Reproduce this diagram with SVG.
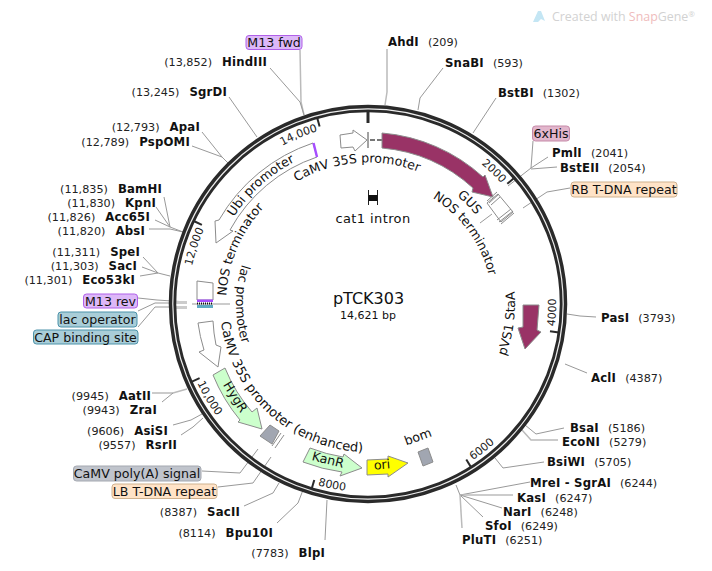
<svg xmlns="http://www.w3.org/2000/svg" width="712" height="571" viewBox="0 0 712 571">
<style>
text{font-family:"DejaVu Sans",Verdana,sans-serif;fill:#111}
.e{font-size:11.2px}
.e .n{font-weight:bold;letter-spacing:.2px;font-size:11.7px}
.e .p{fill:#222}
.r{text-anchor:end}
.f{font-size:12.6px;fill:#111}
.t{font-size:11px;fill:#222;text-anchor:start}
.c{fill:none;stroke:#999;stroke-width:1}
.l{fill:none;stroke:#bbb;stroke-width:1.5}
.tick{stroke:#2a2a2a;stroke-width:2}
.hollow{fill:#fff;stroke:#8c8c8c;stroke-width:1}
.mag{fill:#993366;stroke:#8c8c8c;stroke-width:1}
.grn{fill:#ccffcc;stroke:#8c8c8c;stroke-width:1}
.gry{fill:#a1a6b1;stroke:#8c8c8c;stroke-width:1}
.m{text-anchor:middle}
</style>
<defs>
<path id="cw141" d="M368,445.5A141.5,141.5 0 1 1 368,162.5A141.5,141.5 0 1 1 368,445.5"/>
<path id="cw160" d="M368,464A160,160 0 1 1 368,144A160,160 0 1 1 368,464"/>
<path id="cw142" d="M368,446A142,142 0 1 1 368,162A142,142 0 1 1 368,446"/>
<path id="cw124" d="M368,428A124,124 0 1 1 368,180A124,124 0 1 1 368,428"/>
<path id="cw140" d="M368,444A140,140 0 1 1 368,164A140,140 0 1 1 368,444"/>
<path id="cw180" d="M368,484A180,180 0 1 1 368,124A180,180 0 1 1 368,484"/>
<path id="ccw132" d="M368,172A132,132 0 1 0 368,436A132,132 0 1 0 368,172"/>
<path id="ccw148" d="M368,156A148,148 0 1 0 368,452A148,148 0 1 0 368,156"/>
<path id="ccw147" d="M368,157A147,147 0 1 0 368,451A147,147 0 1 0 368,157"/>
<path id="ccw188" d="M368,116A188,188 0 1 0 368,492A188,188 0 1 0 368,116"/>
</defs>

<g id="watermark">
<path d="M533,22L538,11L541,11L545,21L541,19L538,22Z" fill="#c4e6f4"/>
<text x="552" y="21" style="font-family:'Open Sans',sans-serif;font-size:12.4px;fill:#d2d2d2">Created with <tspan style="fill:#efbcbc">Snap</tspan>Gene<tspan font-size="8" dy="-4">®</tspan></text>
</g>

<g id="connectors">
<polyline class="l" points="387,49 387,92 385,105"/>
<polyline class="c" points="443,68 420,98 418,110"/>
<polyline class="c" points="496,98 473,133"/>
<polyline class="l" points="300,50 301,102 304,115"/>
<polyline class="c" points="270,68 300,102 304,115"/>
<polyline class="c" points="229,97 257,137"/>
<polyline class="c" points="202,132 222,157 228,163"/>
<polyline class="c" points="192,146 222,157"/>
<polyline class="c" points="164,197 170,227 183,232"/>
<polyline class="c" points="156,207 170,227"/>
<polyline class="c" points="155,220 170,227"/>
<polyline class="c" points="149,229 170,229 183,232"/>
<polyline class="c" points="143,257 158,273 170,276"/>
<polyline class="c" points="142,267 158,273"/>
<polyline class="c" points="140,276 158,273"/>
<polyline class="c" points="138,298 157,300 187,302"/>
<polyline class="c" points="138,311 155,303 187,303"/>
<polyline class="c" points="138,327 155,307 187,307"/>
<polyline class="c" points="170,302.500 187,302.500" style="stroke:#ccc;stroke-width:3"/>
<polyline class="c" points="170,307.500 187,307.500" style="stroke:#ccc;stroke-width:3"/>
<polyline class="c" points="192,304 230,304"/>
<polyline class="l" points="152,393 173,393 187,389"/>
<polyline class="c" points="162,402 173,393"/>
<polyline class="c" points="173,425 191,420 202,414"/>
<polyline class="c" points="181,435 193,427 203,418"/>
<polyline class="c" points="202,471 240,473 258,449"/>
<polyline class="c" points="218,487 253,483 271,457"/>
<polyline class="c" points="244,506 273,493 279,483"/>
<polyline class="c" points="277,523 298,503 303,490"/>
<polyline class="c" points="325,540 327,500"/>
<polyline class="c" points="533,141 531,168 508,186"/>
<polyline class="c" points="548,157 531,168"/>
<polyline class="c" points="557,167 531,169"/>
<polyline class="c" points="570,188 547,192 523,208"/>
<polyline class="c" points="480,223 492,214"/>
<polyline class="c" points="596,317 580,316 567,314"/>
<polyline class="c" points="587,373 565,364"/>
<polyline class="c" points="564,428 536,434 525,425"/>
<polyline class="l" points="558,440 531,440 522,430"/>
<polyline class="c" points="544,462 503,468 495,458"/>
<polyline class="c" points="530,482 460,495 456,485"/>
<polyline class="l" points="513,495 460,495"/>
<polyline class="c" points="502,508 460,495"/>
<polyline class="c" points="483,517 460,495"/>
<polyline class="l" points="462,528 460,495"/>
</g>

<g id="backbone">
<circle cx="368" cy="304" r="195.500" fill="none" stroke="#2a2a2a" stroke-width="7.500"/>
<circle cx="368" cy="304" r="195.200" fill="none" stroke="#eee" stroke-width="1.200"/>
<line x1="368" y1="110" x2="368" y2="123" stroke="#2a2a2a" stroke-width="3"/>
<line class="tick" x1="514.100" y1="178" x2="507.300" y2="183.800"/>
<line class="tick" x1="558.900" y1="332.500" x2="550" y2="331.200"/>
<line class="tick" x1="471" y1="467.100" x2="466.300" y2="459.500"/>
<line class="tick" x1="311.700" y1="488.600" x2="314.300" y2="480"/>
<line class="tick" x1="191.400" y1="381.900" x2="199.600" y2="378.200"/>
<line class="tick" x1="193.700" y1="221" x2="201.900" y2="224.900"/>
<line class="tick" x1="317.200" y1="117.800" x2="319.600" y2="126.500"/>
<text class="t" style="text-anchor:end"><textPath href="#cw180" startOffset="63.300%">2000</textPath></text>
<text class="t" style="text-anchor:end"><textPath href="#cw180" startOffset="31.800%">12,000</textPath></text>
<text class="t" style="text-anchor:end"><textPath href="#cw180" startOffset="45.500%">14,000</textPath></text>
<text class="t"><textPath href="#ccw188" startOffset="73.100%">4000</textPath></text>
<text class="t"><textPath href="#ccw188" startOffset="59.400%">6000</textPath></text>
<text class="t"><textPath href="#ccw188" startOffset="45.700%">8000</textPath></text>
<text class="t"><textPath href="#ccw188" startOffset="31.900%">10,000</textPath></text>
</g>

<g id="camv35s-top">
<path class="hollow" d="M340,135L353,133L353,130L367,140L355,151L353,147L341,148Z"/>
<line x1="368" y1="132" x2="368" y2="148" stroke="#444" stroke-width="1"/>
<line x1="370" y1="140" x2="382" y2="140" stroke="#777" stroke-width="2" stroke-dasharray="5,2"/>
<text class="f m"><textPath href="#cw141" startOffset="48.700%">CaMV 35S promoter</textPath></text>
</g>
<g id="gus">
<path class="mag" d="M382,133A171,171 0 0 1 483,177L485,175L493,197L472,192L473,188A156,156 0 0 0 382,148Z"/>
<text class="f m"><textPath href="#cw140" startOffset="62.500%">GUS</textPath></text>
</g>
<g id="nos-right">
<path class="hollow" d="M498,194L513,212L501,222L487,203Z"/>
<path d="M487,201L497,192M489,203L499,194M491,205L500,197M497,220L511,209M499,222L513,211M501,224L514,213" fill="none" stroke="#8c8c8c" stroke-width="1"/>
<text class="f m"><textPath href="#cw124" startOffset="65%">NOS terminator</textPath></text>
</g>
<g id="pvs1">
<path class="mag" d="M523,305L539,305L537,330L541,332L525,349L518,328L523,327Z"/>
<text class="f m"><textPath href="#ccw147" startOffset="72.800%">pVS1 StaA</textPath></text>
</g>
<g id="ubi">
<path class="hollow" d="M313,143A171,171 0 0 0 219,220L215,221L216,243L233,231L230,230A156,156 0 0 1 317,157Z"/>
<path d="M313.500,143L317,157" stroke="#a64dff" stroke-width="2.500" fill="none"/>
<text class="f m"><textPath href="#cw160" startOffset="38.300%">Ubi promoter</textPath></text>
</g>
<g id="nos-left">
<path class="hollow" d="M197,281L213,283L213,300L197,300Z"/>
<text class="f m"><textPath href="#cw142" startOffset="31.400%">NOS terminator</textPath></text>
</g>
<g id="m13rev-feature"><rect x="197" y="299.500" width="16" height="2.500" fill="#a64dff"/></g>
<g id="lac-operator-feature"><line x1="197" y1="303.500" x2="213" y2="303.500" stroke="#111" stroke-width="2" stroke-dasharray="1,1"/></g>
<g id="cap-feature"><rect x="197" y="305" width="16" height="3" fill="#5fa9c2"/></g>
<g id="lac-promoter">
<text class="f m"><textPath href="#ccw132" startOffset="25%">lac promoter</textPath></text>
</g>
<g id="camv35s-enh">
<path class="hollow" d="M198,323A171,171 0 0 0 204,350L199,352L218,367L221,347L216,345A156,156 0 0 1 213,321Z"/>
<text class="f m" style="font-size:13px"><textPath href="#ccw148" startOffset="38.200%">CaMV 35S promoter (enhanced)</textPath></text>
</g>
<g id="hygr">
<path class="grn" d="M213,375A171,171 0 0 0 240,420L238,422L262,429L257,408L252,412A156,156 0 0 1 225,368Z"/>
<text class="f m" transform="translate(235,397) rotate(58)" y="4">HygR</text>
</g>
<g id="polya"><path class="gry" d="M270,425L279,431L272,444L260,436Z"/></g>
<g id="lb"><path d="M284,435L275,448M281,433L272,446" stroke="#8c8c8c" fill="none"/></g>
<g id="kanr">
<path class="grn" d="M310,448A156,156 0 0 0 343,457L344,454L362,468L340,476L342,472A171,171 0 0 1 303,462Z"/>
<text class="f m" transform="translate(328,460) rotate(14)" y="4">KanR</text>
</g>
<g id="ori">
<path d="M367,460L388,459L388,456L408,463L388,477L388,474L367,475Z" fill="#ffff00" stroke="#8c8c8c"/>
<text class="f m" transform="translate(382,465) rotate(-5)" y="4">ori</text>
</g>
<g id="bom">
<path class="gry" d="M418,452L428,448L433,462L423,466Z"/>
<text class="f m" transform="translate(418,437) rotate(-20)" y="4">bom</text>
</g>
<g id="cat1">
<path d="M368.500,190V205M377.500,190V205" stroke="#222" fill="none"/>
<rect x="368.500" y="195" width="9" height="6" fill="#111"/>
<text class="f m" x="373" y="223" style="letter-spacing:.4px;font-size:13px">cat1 intron</text>
</g>
<g id="title">
<text class="m" x="368.500" y="304" style="font-size:16px">pTCK303</text>
<text class="m" x="368" y="319" style="font-size:11px">14,621 bp</text>
</g>

<g id="enzymes" class="e">
<text x="388" y="46"><tspan class="n">AhdI</tspan><tspan class="p" dx="9">(209)</tspan></text>
<text x="445" y="67"><tspan class="n">SnaBI</tspan><tspan class="p" dx="9">(593)</tspan></text>
<text x="498" y="97"><tspan class="n">BstBI</tspan><tspan class="p" dx="9">(1302)</tspan></text>
<text x="552" y="157"><tspan class="n">PmlI</tspan><tspan class="p" dx="9">(2041)</tspan></text>
<text x="560" y="172"><tspan class="n">BstEII</tspan><tspan class="p" dx="9">(2054)</tspan></text>
<text x="601" y="322"><tspan class="n">PasI</tspan><tspan class="p" dx="9">(3793)</tspan></text>
<text x="591" y="382"><tspan class="n">AclI</tspan><tspan class="p" dx="9">(4387)</tspan></text>
<text x="570" y="432"><tspan class="n">BsaI</tspan><tspan class="p" dx="9">(5186)</tspan></text>
<text x="562" y="446"><tspan class="n">EcoNI</tspan><tspan class="p" dx="9">(5279)</tspan></text>
<text x="547" y="466"><tspan class="n">BsiWI</tspan><tspan class="p" dx="9">(5705)</tspan></text>
<text x="530" y="487"><tspan class="n">MreI - SgrAI</tspan><tspan class="p" dx="9">(6244)</tspan></text>
<text x="517" y="502"><tspan class="n">KasI</tspan><tspan class="p" dx="9">(6247)</tspan></text>
<text x="503" y="516"><tspan class="n">NarI</tspan><tspan class="p" dx="9">(6248)</tspan></text>
<text x="485" y="530"><tspan class="n">SfoI</tspan><tspan class="p" dx="9">(6249)</tspan></text>
<text x="462" y="544"><tspan class="n">PluTI</tspan><tspan class="p" dx="9">(6251)</tspan></text>
<text class="r" x="325" y="557"><tspan class="p">(7783)</tspan><tspan class="n" dx="10">BlpI</tspan></text>
<text class="r" x="273" y="537"><tspan class="p">(8114)</tspan><tspan class="n" dx="10">Bpu10I</tspan></text>
<text class="r" x="240" y="516"><tspan class="p">(8387)</tspan><tspan class="n" dx="10">SacII</tspan></text>
<text class="r" x="177" y="449"><tspan class="p">(9557)</tspan><tspan class="n" dx="10">RsrII</tspan></text>
<text class="r" x="168" y="435"><tspan class="p">(9606)</tspan><tspan class="n" dx="10">AsiSI</tspan></text>
<text class="r" x="157" y="414"><tspan class="p">(9943)</tspan><tspan class="n" dx="10">ZraI</tspan></text>
<text class="r" x="151" y="400"><tspan class="p">(9945)</tspan><tspan class="n" dx="10">AatII</tspan></text>
<text class="r" x="135" y="284"><tspan class="p">(11,301)</tspan><tspan class="n" dx="10">Eco53kI</tspan></text>
<text class="r" x="137" y="270"><tspan class="p">(11,303)</tspan><tspan class="n" dx="10">SacI</tspan></text>
<text class="r" x="140" y="256"><tspan class="p">(11,311)</tspan><tspan class="n" dx="10">SpeI</tspan></text>
<text class="r" x="145" y="235"><tspan class="p">(11,820)</tspan><tspan class="n" dx="10">AbsI</tspan></text>
<text class="r" x="150" y="221"><tspan class="p">(11,826)</tspan><tspan class="n" dx="10">Acc65I</tspan></text>
<text class="r" x="156" y="207"><tspan class="p">(11,830)</tspan><tspan class="n" dx="10">KpnI</tspan></text>
<text class="r" x="162" y="193"><tspan class="p">(11,835)</tspan><tspan class="n" dx="10">BamHI</tspan></text>
<text class="r" x="190" y="146"><tspan class="p">(12,789)</tspan><tspan class="n" dx="10">PspOMI</tspan></text>
<text class="r" x="200" y="131"><tspan class="p">(12,793)</tspan><tspan class="n" dx="10">ApaI</tspan></text>
<text class="r" x="227" y="96"><tspan class="p">(13,245)</tspan><tspan class="n" dx="10">SgrDI</tspan></text>
<text class="r" x="267" y="66"><tspan class="p">(13,852)</tspan><tspan class="n" dx="10">HindIII</tspan></text>
</g>

<g id="label-m13fwd"><rect x="246" y="35.500" width="56" height="14" rx="3" fill="#ddb8f8" stroke="#b060e8"/><text class="f m" x="274" y="47">M13 fwd</text></g>
<g id="label-6xhis"><rect x="532.500" y="126" width="37" height="15" rx="3" fill="#e2b6cc" stroke="#c58aa8"/><text class="f m" x="551" y="138">6xHis</text></g>
<g id="label-rb"><rect x="571" y="182" width="106" height="15" rx="3" fill="#ffe3c7" stroke="#cfb28f"/><text class="f m" x="624" y="194">RB T-DNA repeat</text></g>
<g id="label-m13rev"><rect x="83.500" y="294" width="54" height="14" rx="3" fill="#ddb8f8" stroke="#b060e8"/><text class="f m" x="110.500" y="305.500">M13 rev</text></g>
<g id="label-lac"><rect x="58" y="312" width="79" height="15" rx="3" fill="#a9cdd8" stroke="#4d93aa"/><text class="f m" x="97.500" y="324">lac operator</text></g>
<g id="label-cap"><rect x="33.500" y="330" width="104.500" height="14" rx="3" fill="#a9cdd8" stroke="#4d93aa"/><text class="f m" x="85.500" y="342">CAP binding site</text></g>
<g id="label-polya"><rect x="73.500" y="466" width="127.500" height="15" rx="3" fill="#c0c4cc" stroke="#a4a8b0"/><text class="f m" x="137" y="478">CaMV poly(A) signal</text></g>
<g id="label-lb"><rect x="112" y="484" width="105" height="14.500" rx="3" fill="#ffe3c7" stroke="#cfb28f"/><text class="f m" x="164.500" y="496">LB T-DNA repeat</text></g>
</svg>
